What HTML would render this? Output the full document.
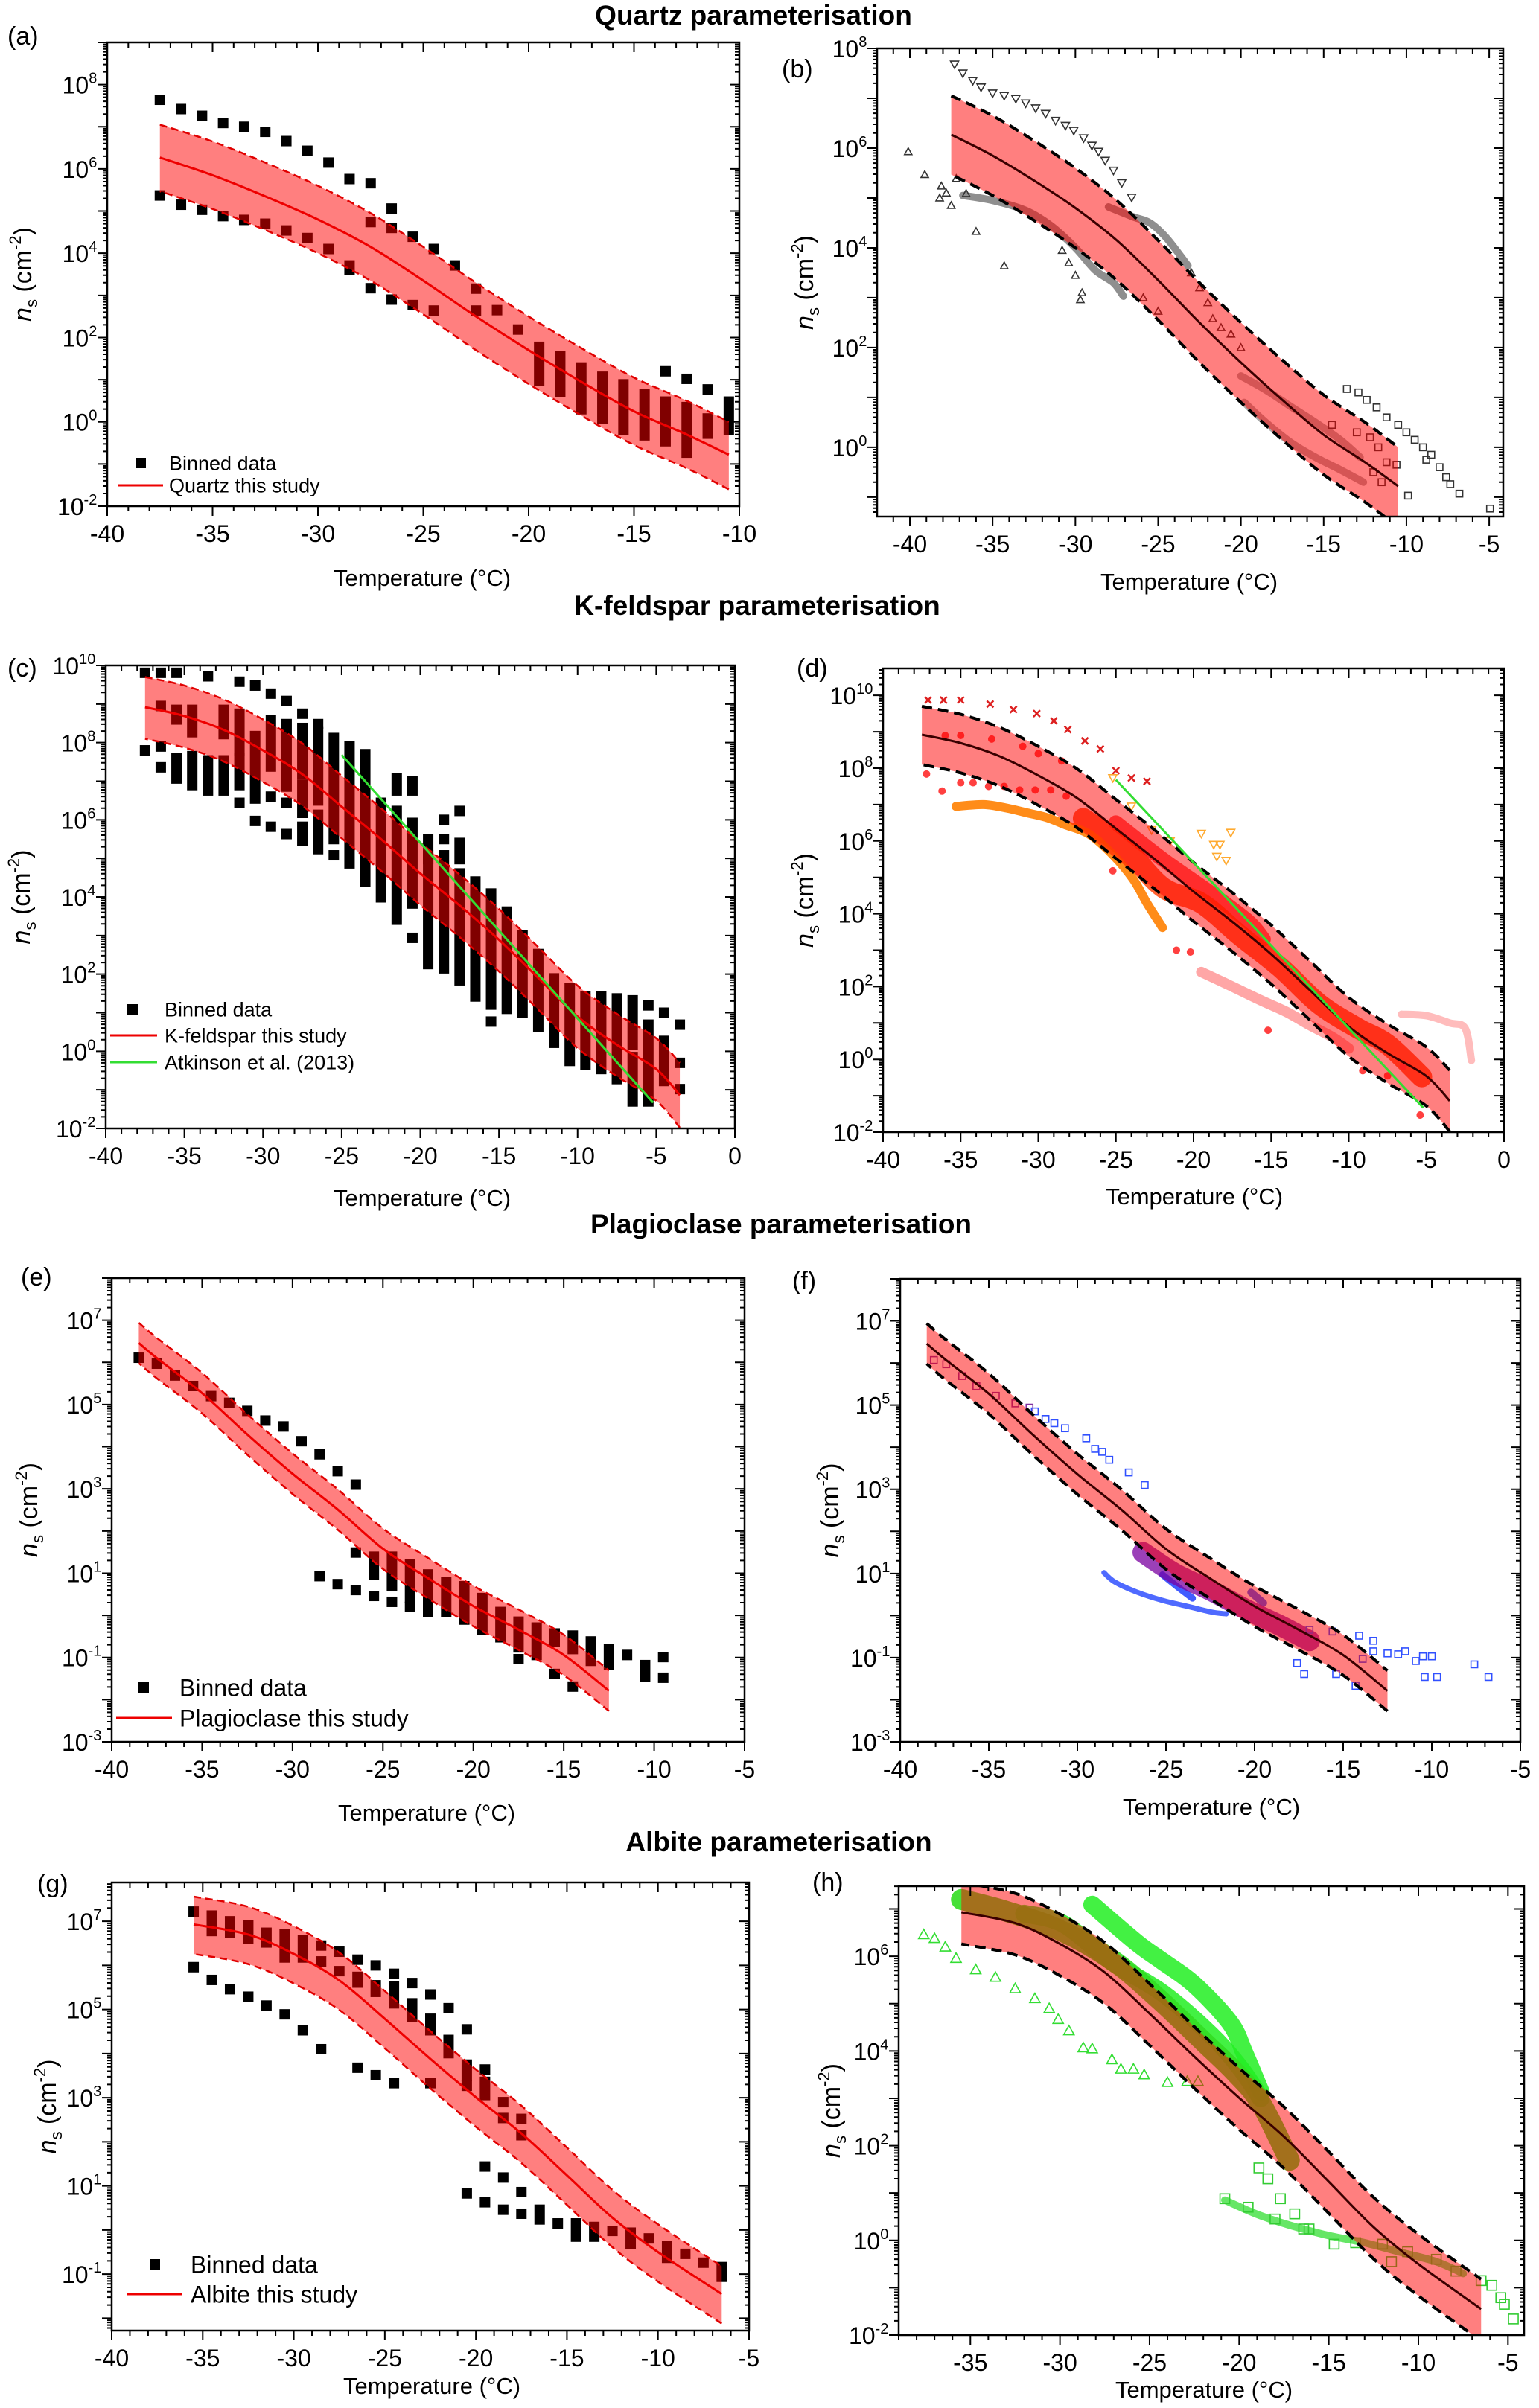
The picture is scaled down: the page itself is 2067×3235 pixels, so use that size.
<!DOCTYPE html>
<html><head><meta charset="utf-8"><title>INP parameterisations</title>
<style>
html,body{margin:0;padding:0;background:#fff;}
svg{display:block;font-family:"Liberation Sans",sans-serif;}
</style></head>
<body>
<svg id="fig" xmlns="http://www.w3.org/2000/svg" width="2067" height="3235" viewBox="0 0 2067 3235">
<rect x="0" y="0" width="2067" height="3235" fill="#fff"/>
<text x="1012" y="33" font-size="37" font-weight="bold" text-anchor="middle">Quartz parameterisation</text>
<text x="1017" y="826" font-size="37" font-weight="bold" text-anchor="middle">K-feldspar parameterisation</text>
<text x="1049" y="1657" font-size="37" font-weight="bold" text-anchor="middle">Plagioclase parameterisation</text>
<text x="1046" y="2487" font-size="37" font-weight="bold" text-anchor="middle">Albite parameterisation</text>
</svg>
<script>
// ---------- parameterisation curves (log10 ns) ----------
const Q_T=[-37.5,-35,-32.5,-30,-27.5,-25,-22.5,-20,-17.5,-15,-12.5,-10.5];
const Q_C=[6.27,5.85,5.35,4.8,4.15,3.35,2.5,1.7,0.95,0.25,-0.3,-0.78];
const Q_U=[7.05,6.65,6.15,5.6,4.95,4.15,3.3,2.5,1.75,1.05,0.5,0.0];
const Q_L=[5.47,5.05,4.55,4.0,3.35,2.55,1.7,0.9,0.15,-0.55,-1.1,-1.6];

const KF_T=[-37.5,-35,-32.5,-30,-27.5,-25,-22.5,-20,-17.5,-15,-12.5,-10,-7.5,-5,-3.5];
const KF_C=[8.92,8.69,8.33,7.8,7.18,6.34,5.5,4.61,3.78,2.89,1.9,0.9,0.17,-0.46,-1.14];
const KF_U=[9.7,9.48,9.12,8.6,7.98,7.14,6.3,5.41,4.58,3.69,2.7,1.7,0.97,0.34,-0.3];
const KF_L=[8.1,7.87,7.51,6.98,6.36,5.52,4.68,3.79,2.96,2.07,1.08,0.08,-0.65,-1.28,-1.98];
const AT_T=[-25,-5.2];
const AT_V=[7.68,-1.33];

const PL_T=[-38.5,-37.5,-35,-32.5,-30,-27.5,-25,-22.5,-20,-17.5,-15,-12.5];
const PL_C=[6.46,6.1,5.27,4.29,3.36,2.51,1.58,0.88,0.22,-0.34,-0.94,-1.79];
const PL_U=[6.94,6.58,5.75,4.77,3.84,2.99,2.06,1.36,0.7,0.14,-0.46,-1.31];
const PL_L=[5.98,5.62,4.79,3.81,2.88,2.03,1.1,0.4,-0.26,-0.82,-1.42,-2.27];

const AB_T=[-35.5,-32.5,-30,-27.5,-25,-22.5,-20,-17.5,-15,-12.5,-10,-6.5];
const AB_C=[6.93,6.7,6.26,5.66,4.79,3.88,3.01,2.19,1.24,0.28,-0.5,-1.45];
const AB_U=[7.56,7.33,6.89,6.29,5.42,4.51,3.64,2.82,1.87,0.91,0.13,-0.82];
const AB_L=[6.26,6.03,5.59,4.99,4.12,3.21,2.34,1.52,0.57,-0.39,-1.17,-2.12];

// ---------- binned data (T, log10 lo, log10 hi) ----------
const A_T=[-37.5,-36.5,-35.5,-34.5,-33.5,-32.5,-31.5,-30.5,-29.5,-28.5,-27.5,-26.5,-25.5,-24.5,-23.5,-22.5,-21.5,-20.5,
 -37.5,-36.5,-35.5,-34.5,-33.5,-32.5,-31.5,-30.5,-29.5,-28.5,-27.5,-26.5,-25.5,-24.5,-22.5,-27.5,-26.5,
 -19.5,-18.5,-17.5,-16.5,-15.5,-14.5,-13.5,-13.5,-12.5,-12.5,-11.5,-11.5,-10.5];
const A_LO=[7.64,7.42,7.26,7.09,7.0,6.88,6.66,6.43,6.15,5.76,5.66,5.06,4.39,4.1,3.71,3.16,2.65,2.19,
 5.37,5.15,5.03,4.88,4.79,4.7,4.54,4.36,4.1,3.6,3.17,2.9,2.77,2.64,2.64,4.74,4.6,
 0.98,0.71,0.3,0.08,-0.19,-0.32,-0.46,1.2,-0.73,1.02,-0.28,0.77,-0.19];
const A_HI=[7.64,7.42,7.26,7.09,7.0,6.88,6.66,6.43,6.15,5.76,5.66,5.06,4.39,4.1,3.71,3.16,2.65,2.19,
 5.37,5.15,5.03,4.88,4.79,4.7,4.54,4.36,4.1,3.71,3.17,2.9,2.77,2.64,2.64,4.74,4.6,
 1.78,1.56,1.29,1.07,0.89,0.66,0.48,1.2,0.35,1.02,0.08,0.77,0.48];

const C_T=[-37.5,-37.5,-36.5,-36.5,-36.5,-36.5,-35.5,-35.5,-35.5,-34.5,-34.5,-33.5,-33.5,-32.5,-32.5,-31.5,-31.5,-31.5,-31.5,
 -30.5,-30.5,-30.5,-29.5,-29.5,-29.5,-29.5,-28.5,-28.5,-28.5,-28.5,-27.5,-27.5,-27.5,-27.5,-26.5,-26.5,-26.5,-25.5,-25.5,
 -24.5,-23.5,-22.5,-22.5,-21.5,-21.5,-20.5,-20.5,-20.5,-19.5,-19.5,-18.5,-18.5,-18.5,-17.5,-17.5,-17.5,-16.5,-15.5,-15.5,
 -14.5,-13.5,-12.5,-11.5,-10.5,-9.5,-8.5,-7.5,-6.5,-6.5,-5.5,-5.5,-4.5,-4.5,-3.5,-3.5,-3.5];
const C_LO=[9.81,7.8,9.81,8.95,7.9,7.36,9.81,8.6,7.07,8.27,6.9,9.72,6.76,8.22,6.76,9.58,7.8,6.9,6.44,
 9.48,6.55,5.97,9.27,7.38,6.6,5.82,9.08,6.86,6.44,5.63,8.75,7.18,6.18,5.45,8.48,6.5,5.24,5.5,5.08,
 4.87,4.4,4.25,3.99,6.76,3.41,6.76,3.83,2.94,4.98,2.26,6.0,5.5,2.15,6.23,4.98,1.84,1.42,1.21,0.77,
 1.1,1.0,0.64,0.22,-0.25,-0.36,-0.46,-0.72,0.17,-1.3,1.19,-1.3,1.0,-0.77,0.69,-0.3,-0.98];
const C_HI=[9.81,7.8,9.81,8.95,7.9,7.36,9.81,8.85,7.6,8.85,7.65,9.72,7.54,8.85,7.54,9.58,8.75,7.6,6.44,
 9.48,8.17,5.97,9.27,8.59,6.6,5.82,9.08,8.48,6.44,5.63,8.75,8.38,6.91,5.82,8.48,8.27,6.13,8.12,5.08,
 7.9,7.7,6.44,3.99,7.07,6.23,7.0,5.92,2.94,5.5,5.08,6.0,5.5,5.08,6.23,5.4,4.61,4.4,4.09,0.77,
 3.62,3.0,2.52,1.89,1.63,1.42,1.42,1.37,1.32,-0.15,1.19,0.69,1.0,0.27,0.69,-0.3,-0.98];

const E_T=[-38.5,-37.5,-36.5,-35.5,-34.5,-33.5,-32.5,-31.5,-30.5,-29.5,-28.5,-27.5,-26.5,
 -28.5,-27.5,-26.5,-25.5,-24.5,-23.5,-22.5,-26.5,-25.5,-24.5,-23.5,-22.5,-21.5,-20.5,-19.5,-18.5,-17.5,-17.5,-16.5,
 -15.5,-15.5,-14.5,-14.5,-13.5,-12.5,-11.5,-10.5,-9.5,-9.5];
const E_LO=[6.11,5.97,5.69,5.44,5.2,5.04,4.85,4.62,4.48,4.13,3.82,3.42,3.1,
 0.93,0.74,0.6,0.46,0.32,0.2,0.08,1.49,0.97,0.69,0.41,0.08,0.08,-0.1,-0.34,-0.52,-0.76,-1.04,-0.94,
 -0.62,-1.39,-0.8,-1.69,-1.08,-1.18,-0.94,-1.46,-0.99,-1.48];
const E_HI=[6.11,5.97,5.69,5.44,5.2,5.04,4.85,4.62,4.48,4.13,3.82,3.42,3.1,
 0.93,0.74,0.6,0.46,0.32,0.2,0.08,1.49,1.39,1.39,1.21,0.97,0.79,0.69,0.41,0.08,-0.15,-1.04,-0.29,
 -0.43,-1.39,-0.48,-1.69,-0.62,-0.8,-0.94,-1.18,-0.99,-1.48];

const G_T=[-35.5,-35.5,-34.5,-34.5,-33.5,-33.5,-32.5,-32.5,-31.5,-31.5,-30.5,-30.5,-29.5,-29.5,-28.5,-28.5,-28.5,-27.5,-27.5,
 -26.5,-26.5,-26.5,-25.5,-25.5,-25.5,-24.5,-24.5,-24.5,-23.5,-23.5,-22.5,-22.5,-22.5,-21.5,-21.5,-20.5,-20.5,-20.5,-20.5,
 -19.5,-19.5,-19.5,-19.5,-18.5,-18.5,-18.5,-18.5,-17.5,-17.5,-17.5,-17.5,-16.5,-15.5,-14.5,-13.5,-12.5,-11.5,-10.5,-9.5,-8.5,-7.5,-6.5];
const G_LO=[7.22,5.96,6.78,5.67,6.74,5.46,6.61,5.29,6.52,5.09,6.18,4.89,6.18,4.53,6.45,6.09,4.1,6.31,5.87,
 6.13,5.61,3.68,6.0,5.4,3.51,5.81,5.14,3.33,5.6,4.83,5.34,4.53,3.33,5.03,4.01,4.55,3.49,3.27,0.83,
 3.64,3.06,1.44,0.63,2.9,2.54,1.19,0.46,2.52,2.15,0.86,0.37,0.24,0.15,-0.15,-0.15,-0.02,-0.32,-0.19,-0.63,-0.54,-0.74,-1.06];
const G_HI=[7.22,5.96,7.13,5.67,7.0,5.46,6.91,5.29,6.74,5.09,6.7,4.89,6.57,4.53,6.45,6.09,4.1,6.31,5.87,
 6.13,5.74,3.68,6.0,5.55,3.51,5.81,5.53,3.33,5.6,5.14,5.34,4.79,3.33,5.03,4.31,4.55,3.75,3.27,0.83,
 3.64,3.36,1.44,0.63,2.9,2.54,1.19,0.46,2.52,2.15,0.86,0.37,0.46,0.15,0.15,0.07,-0.02,-0.06,-0.19,-0.37,-0.54,-0.74,-0.84];

// ---------- literature data, panel (b) ----------
const B_DN_T=[-37.3,-36.8,-36.2,-35.7,-35.0,-34.3,-33.6,-33.0,-32.4,-31.8,-31.2,-30.6,-30.1,-29.5,-29.0,-28.6,-28.2,-27.7,-27.2,-26.6];
const B_DN_V=[7.68,7.5,7.35,7.22,7.1,7.05,6.99,6.9,6.8,6.69,6.55,6.45,6.35,6.2,6.05,5.93,5.75,5.55,5.3,5.01];
const B_UP_T=[-40.1,-39.1,-38.1,-37.8,-37.2,-36.6,-36.0,-34.3,-37.5,-38.2,-30.8,-30.4,-30.0,-29.6,-29.7,-23.0,-22.5,-22.0,-21.7,-21.2,-20.6,-20.0,-25.9,-25.0];
const B_UP_V=[5.93,5.47,5.24,5.1,5.39,5.09,4.33,3.64,4.85,5.0,3.95,3.7,3.45,3.1,2.96,3.5,3.2,2.9,2.58,2.4,2.27,2.0,3.0,2.73];
const B_TR1_T=[-36.8,-35,-33,-31.5,-30,-28.8,-27.7,-27.1];
const B_TR1_V=[5.05,4.95,4.75,4.45,4.0,3.55,3.3,3.03];
const B_TR2_T=[-28.0,-26.5,-25.5,-24.5,-23.2];
const B_TR2_V=[4.82,4.62,4.5,4.2,3.64];
const B_TR3_T=[-20.0,-18.5,-17.0,-15.5,-14.0,-12.8];
const B_TR3_V=[1.43,1.15,0.82,0.5,0.15,-0.2];
const B_TR4_T=[-19.8,-18.5,-17.0,-15.5,-14.0,-12.6];
const B_TR4_V=[0.9,0.5,0.1,-0.2,-0.45,-0.7];
const B_SQ_T=[-13.6,-12.9,-12.4,-11.8,-11.2,-10.5,-10.0,-9.5,-9.0,-8.5,-8.0,-7.6,-7.35,-9.9,-8.8,-6.8,-4.95,-12.2,-11.7,-11.2,-10.6,-12.0,-11.5,-13.0,-14.5];
const B_SQ_V=[1.17,1.1,0.95,0.8,0.6,0.45,0.3,0.15,0.0,-0.15,-0.4,-0.6,-0.74,-0.97,-0.25,-0.93,-1.23,0.2,0.0,-0.3,-0.35,-0.5,-0.7,0.3,0.45];

// ---------- literature data, panel (d) ----------
const D_X_T=[-37.1,-36.1,-35,-33.1,-31.6,-30.1,-29,-28.1,-27,-26,-25,-24,-23];
const D_X_V=[9.87,9.87,9.87,9.76,9.61,9.5,9.3,9.06,8.75,8.53,7.93,7.73,7.64];
const D_CI_T=[-37.2,-36.2,-35,-34.2,-33.2,-32.2,-31.2,-30.2,-29.2,-28.2,-36,-35,-33,-31,-30,-28.5,-25.2,-21.1,-20.2,-15.2,-9.1,-5.4,-7.5,-6.5];
const D_CI_V=[7.84,7.37,7.6,7.6,7.5,7.5,7.4,7.4,7.4,7.23,8.9,8.9,8.8,8.6,8.4,8.2,5.18,3.0,2.95,0.8,-0.31,-1.53,-0.45,-0.2];
const D_OR_T=[-35.3,-33.5,-32,-30.8,-29.5,-28.3,-26.7,-25.2,-23.9,-23.0,-22.0];
const D_OR_V=[6.95,7.0,6.9,6.78,6.65,6.45,6.18,5.62,4.96,4.29,3.62];
const D_RO_T=[-27.1,-24.5,-22,-19.5,-17,-14.4,-11.9,-9.4,-7.5,-5.3];
const D_RO_V=[6.62,5.84,4.73,4.29,3.4,2.52,1.52,0.85,0.41,-0.48];
const D_RD_T=[-25,-22,-19,-16.5,-15.5];
const D_RD_V=[6.5,5.5,4.6,3.8,3.3];
const D_PK_T=[-19.5,-17.5,-15.7,-14,-12.6,-11,-10];
const D_PK_V=[2.4,2.0,1.63,1.3,0.96,0.6,0.3];
const D_PR_T=[-6.6,-5,-3.5,-2.5,-2.1];
const D_PR_V=[1.24,1.2,1.0,0.85,-0.03];
const D_TR_T=[-25.2,-24,-22.7,-21.5,-19.5,-18.7,-18.5,-17.9,-17.6,-18.3];
const D_TR_V=[7.73,6.95,6.3,6.0,6.2,5.9,5.57,5.46,6.23,5.9];

// ---------- literature data, panel (f) ----------
const F_PS_T=[-38.1,-37.4,-36.5,-35.7,-34.6,-33.5,-32.7];
const F_PS_V=[6.07,5.97,5.69,5.45,5.22,5.04,4.94];
const F_BS_T=[-32.4,-31.8,-31.3,-30.7,-29.5,-29.0,-28.6,-28.2,-27.1,-26.2];
const F_BS_V=[4.85,4.67,4.57,4.45,4.21,3.96,3.89,3.7,3.4,3.1];
const F_BL_T=[-28.5,-27.9,-26.6,-25.2,-23.8,-22.4,-21.6];
const F_BL_V=[1.02,0.8,0.55,0.36,0.22,0.08,0.04];
const F_BD_T=[-25.2,-24.4,-23.5];
const F_BD_V=[0.97,0.7,0.41];
const F_BB_T=[-20.2,-19.5];
const F_BB_V=[0.55,0.3];
const F_PC_T=[-26.3,-24.5,-22.5,-20.5,-18.5,-16.9];
const F_PC_V=[1.5,1.0,0.6,0.15,-0.25,-0.6];
const F_BR_T=[-16.9,-15.6,-14.1,-13.3,-12.5,-11.9,-11.5,-10.9,-10.5,-10.0,-10.4,-9.7,-7.6,-6.8,-17.6,-17.2,-15.4,-14.3,-13.9,-13.3];
const F_BR_V=[-0.34,-0.38,-0.48,-0.6,-0.9,-0.92,-0.85,-1.08,-0.97,-0.97,-1.46,-1.46,-1.16,-1.46,-1.13,-1.39,-1.39,-1.67,-1.03,-0.85];

// ---------- literature data, panel (h) ----------
const H_TR_T=[-37.6,-37,-36.4,-35.8,-34.7,-33.6,-32.5,-31.4,-30.6,-30.1,-29.5,-28.7,-28.2,-27.1,-26.6,-25.9,-25.3,-24,-22.9,-22.3];
const H_TR_V=[6.46,6.38,6.2,5.96,5.72,5.56,5.32,5.11,4.9,4.67,4.43,4.07,4.05,3.82,3.62,3.62,3.5,3.34,3.36,3.36];
const H_UP_T=[-28.2,-25.7,-24.3,-22.5,-20.5,-19.7,-18.8];
const H_UP_V=[7.09,6.28,5.9,5.4,4.59,3.95,3.14];
const H_MD_T=[-32,-29.8,-27.1,-24.3,-21.6,-19.9,-18.8];
const H_MD_V=[6.9,6.68,5.88,5.23,4.35,3.62,3.0];
const H_OL_T=[-35.5,-33,-30,-27,-24.5,-22,-20.2,-18.8,-17.2];
const H_OL_V=[7.2,6.95,6.55,5.9,5.1,4.2,3.54,2.9,1.69];
const H_SL_T=[-20.8,-19,-17,-15,-13,-11,-9,-7.5];
const H_SL_V=[0.85,0.55,0.3,0.1,-0.05,-0.25,-0.45,-0.7];
const H_SQ_T=[-18.9,-18.4,-17.7,-16.9,-16.4,-20.8,-19.5,-18.0,-16.1,-14.7,-13.5,-12,-10.6,-9,-7.9,-6.5,-5.9,-5.4,-5.2,-4.7,-11.5];
const H_SQ_V=[1.53,1.3,0.88,0.56,0.24,0.88,0.7,0.45,0.24,-0.08,-0.05,-0.08,-0.24,-0.4,-0.65,-0.85,-0.95,-1.21,-1.35,-1.66,-0.45];

// ---------- axis tick labels ----------
const XT_A=[-40,-35,-30,-25,-20,-15,-10];
const YT_A=[-2,0,2,4,6,8];
const XT_B=[-40,-35,-30,-25,-20,-15,-10,-5];
const YT_B=[0,2,4,6,8];
const XT_C=[-40,-35,-30,-25,-20,-15,-10,-5,0];
const YT_C=[-2,0,2,4,6,8,10];
const XT_E=[-40,-35,-30,-25,-20,-15,-10,-5];
const YT_E=[-3,-1,1,3,5,7];
const YT_G=[-1,1,3,5,7];
const XT_H=[-35,-30,-25,-20,-15,-10,-5];
const YT_H=[-2,0,2,4,6];

const NS='http://www.w3.org/2000/svg';
const svg=document.getElementById('fig');
function el(tag,attrs,parent){const e=document.createElementNS(NS,tag);for(const k in attrs)e.setAttribute(k,attrs[k]);parent.appendChild(e);return e;}

// smooth path through screen points (Catmull-Rom)
function smooth(pts,move){
  let d=(move?'M':'L')+pts[0][0]+','+pts[0][1];
  for(let i=0;i<pts.length-1;i++){
    const p0=pts[Math.max(0,i-1)],p1=pts[i],p2=pts[i+1],p3=pts[Math.min(pts.length-1,i+2)];
    const c1x=p1[0]+(p2[0]-p0[0])/6,c1y=p1[1]+(p2[1]-p0[1])/6;
    const c2x=p2[0]-(p3[0]-p1[0])/6,c2y=p2[1]-(p3[1]-p1[1])/6;
    d+=`C${c1x},${c1y} ${c2x},${c2y} ${p2[0]},${p2[1]}`;
  }
  return d;
}

function makePanel(p){
  const g=el('g',{},svg);
  
  
  const sx=t=>p.L+(t-p.x0)/(p.x1-p.x0)*(p.R-p.L);
  const sy=v=>p.B-(v-p.y0)/(p.y1-p.y0)*(p.B-p.T);
  const cp=el('clipPath',{id:'clip-'+p.key},g);
  el('rect',{x:p.L,y:p.T,width:p.R-p.L,height:p.B-p.T},cp);
  const plot=el('g',{'clip-path':'url(#clip-'+p.key+')'},g);
  
  
  return {p,g,plot,sx,sy};
}

function drawBinned(P,T,LO,HI,s){
  for(let i=0;i<T.length;i++){
    const y1=P.sy(HI[i]),y2=P.sy(LO[i]);
    const r=el('rect',{x:P.sx(T[i])-s/2,y:y1-s/2,width:s,height:(y2-y1)+s,fill:'#000'},P.plot);
    
    
  }
}

function marker(P,type,x,y,color,sz){
  let m;
  const h=sz/2;
  if(type==='sq') m=el('rect',{x:x-h,y:y-h,width:sz,height:sz,fill:'none',stroke:color,'stroke-width':1.6},P.plot);
  else if(type==='tri') m=el('polygon',{points:`${x},${y-h} ${x-h},${y+h*0.8} ${x+h},${y+h*0.8}`,fill:'none',stroke:color,'stroke-width':1.6},P.plot);
  else if(type==='dtri') m=el('polygon',{points:`${x},${y+h} ${x-h},${y-h*0.8} ${x+h},${y-h*0.8}`,fill:'none',stroke:color,'stroke-width':1.6},P.plot);
  else if(type==='circ') m=el('circle',{cx:x,cy:y,r:h,fill:'none',stroke:color,'stroke-width':2},P.plot);
  else if(type==='fcirc') m=el('circle',{cx:x,cy:y,r:h,fill:color,stroke:'none'},P.plot);
  else m=el('path',{d:`M${x-h},${y-h}L${x+h},${y+h}M${x-h},${y+h}L${x+h},${y-h}`,stroke:color,'stroke-width':2.5},P.plot);
  return m;
}

function drawMarkers(P,T,V,type,color,sz){
  for(let i=0;i<T.length;i++){
    const m=marker(P,type,P.sx(T[i]),P.sy(V[i]),color,sz);
    
    
  }
}

function drawTrace(P,T,V,color,w,op){
  const pts=T.map((t,i)=>[P.sx(t),P.sy(V[i])]);
  const l=el('path',{d:smooth(pts,true),fill:'none',stroke:color,'stroke-width':w,'stroke-opacity':op,'stroke-linecap':'round','stroke-linejoin':'round'},P.plot);
  
  
}

function drawBand(P,T,C,U,L,dark){
  const up=T.map((t,i)=>[P.sx(t),P.sy(U[i])]);
  const lo=T.map((t,i)=>[P.sx(t),P.sy(L[i])]).reverse();
  const band=el('path',{d:smooth(up,true)+smooth(lo,false)+'Z',fill:'#ff0000','fill-opacity':0.5,stroke:'none'},P.plot);
  
  
  const dcol=dark?'#000':'#e00000', dw=dark?4:2.5, da=dark?'14,8':'10,6';
  const u=el('path',{d:smooth(up,true),fill:'none',stroke:dcol,'stroke-width':dw,'stroke-dasharray':da},P.plot);
  
  
  const l=el('path',{d:smooth(lo,true),fill:'none',stroke:dcol,'stroke-width':dw,'stroke-dasharray':da},P.plot);
  
  
  const c=el('path',{d:smooth(T.map((t,i)=>[P.sx(t),P.sy(C[i])]),true),fill:'none',stroke:dark?'#3a0000':'#ee0000','stroke-width':3},P.plot);
  
  
}

function drawAxes(P,xt,yt,cfg){
  const p=P.p,g=P.g;
  const fr=el('rect',{x:p.L,y:p.T,width:p.R-p.L,height:p.B-p.T,fill:'none',stroke:'#000','stroke-width':2.5},g);
  
  
  const tk=el('g',{stroke:'#000','stroke-width':2},g);
  
  
  let d='';
  for(let t=Math.ceil(p.x0);t<=Math.floor(p.x1);t++){
    const x=P.sx(t), maj=(t%5===0), len=maj?13:7;
    d+=`M${x},${p.B}v${len}M${x},${p.T}v${len}`;
  }
  for(let dd=Math.floor(p.y0);dd<=Math.ceil(p.y1);dd++){
    for(let k=1;k<10;k++){
      const v=dd+Math.log10(k);
      if(v<p.y0-1e-6||v>p.y1+1e-6) continue;
      const y=P.sy(v), len=(k===1)?13:6;
      d+=`M${p.L},${y}h${-len}M${p.R},${y}h${-len}`;
    }
  }
  el('path',{d:d,fill:'none'},tk);
  xt.forEach(t=>{
    const tx=el('text',{x:P.sx(t),y:p.B+48,'font-size':32,'text-anchor':'middle'},g);
    tx.textContent=String(t);
    
    
  });
  yt.forEach(v=>{
    const tx=el('text',{x:p.L-12,y:P.sy(v)+12,'font-size':32,'text-anchor':'end'},g);
    
    
    const a=el('tspan',{},tx); a.textContent='10';
    const b=el('tspan',{dy:-14,'font-size':20},tx); b.textContent=String(v);
    const c=el('tspan',{dy:14,'font-size':20},tx); c.textContent='\u200a';
  });
  const xl=el('text',{x:cfg.xlx,y:cfg.xly,'font-size':31,'text-anchor':'middle'},g);
  xl.textContent='Temperature (\u00B0C)';
  
  
  const cy=(p.T+p.B)/2;
  const yl=el('text',{x:cfg.ylx,y:cy,'font-size':34,'text-anchor':'middle',transform:`rotate(-90 ${cfg.ylx} ${cy})`,dy:12},g);
  
  
  const n=el('tspan',{'font-style':'italic'},yl); n.textContent='n';
  const s=el('tspan',{dy:8,'font-size':22},yl); s.textContent='s';
  const r1=el('tspan',{dy:-8},yl); r1.textContent=' (cm';
  const sp=el('tspan',{dy:-14,'font-size':22},yl); sp.textContent='-2';
  const r2=el('tspan',{dy:14},yl); r2.textContent=')';
  const pl=el('text',{x:cfg.plx,y:cfg.ply,'font-size':34},g);
  pl.textContent=cfg.label;
  
  
}

function legend(P,items,mx,lx1,lx2,tx,ys,fs,ms){
  const lg=el('g',{},P.g);
  
  
  items.forEach((it,i)=>{
    const y=ys[i];
    if(it.type==='sq'){
      const r=el('rect',{x:mx-ms/2,y:y-ms/2,width:ms,height:ms,fill:'#000'},lg);
      
      
    } else {
      const l=el('line',{x1:lx1,x2:lx2,y1:y,y2:y,stroke:it.color,'stroke-width':3},lg);
      
      
    }
    const t=el('text',{x:tx,y:y+fs*0.36,'font-size':fs},lg);
    t.textContent=it.text;
    
    
  });
}

// ===== (a) =====
const Pa=makePanel({name:'panel-a-quartz-binned',key:'a',L:144,R:993,T:57,B:680,x0:-40,x1:-10,y0:-2,y1:9});
drawBinned(Pa,A_T,A_LO,A_HI,14);
drawBand(Pa,Q_T,Q_C,Q_U,Q_L,false);
drawAxes(Pa,XT_A,YT_A,{xlx:567,xly:787,ylx:30,plx:10,ply:60,label:'(a)'});
legend(Pa,[{type:'sq',text:'Binned data'},{type:'line',color:'#ee0000',text:'Quartz this study'}],189,158,219,227,[622,652],27,14);

// ===== (b) =====
const Pb=makePanel({name:'panel-b-quartz-literature',key:'b',L:1178,R:2019,T:65,B:694,x0:-41.98,x1:-4.15,y0:-1.39,y1:8});
drawTrace(Pb,B_TR1_T,B_TR1_V,'#444',10,0.6);
drawTrace(Pb,B_TR2_T,B_TR2_V,'#444',10,0.6);
drawTrace(Pb,B_TR3_T,B_TR3_V,'#444',10,0.45);
drawTrace(Pb,B_TR4_T,B_TR4_V,'#444',10,0.45);
drawMarkers(Pb,B_DN_T,B_DN_V,'dtri','#333',11);
drawMarkers(Pb,B_UP_T,B_UP_V,'tri','#333',10);
drawMarkers(Pb,B_SQ_T,B_SQ_V,'sq','#333',9);
drawBand(Pb,Q_T,Q_C,Q_U,Q_L,true);
drawAxes(Pb,XT_B,YT_B,{xlx:1597,xly:792,ylx:1080,plx:1050,ply:104,label:'(b)'});

// ===== (c) =====
const Pc=makePanel({name:'panel-c-kfeldspar-binned',key:'c',L:142,R:987,T:894,B:1516,x0:-40,x1:0,y0:-2,y1:10});
drawBinned(Pc,C_T,C_LO,C_HI,14);
drawBand(Pc,KF_T,KF_C,KF_U,KF_L,false);
(function(){const l=el('polyline',{points:AT_T.map((t,i)=>Pc.sx(t)+','+Pc.sy(AT_V[i])).join(' '),fill:'none',stroke:'#33dd33','stroke-width':3},Pc.plot);

})();
drawAxes(Pc,XT_C,YT_C,{xlx:567,xly:1620,ylx:28,plx:10,ply:909,label:'(c)'});
legend(Pc,[{type:'sq',text:'Binned data'},{type:'line',color:'#ee0000',text:'K-feldspar this study'},{type:'line',color:'#33dd33',text:'Atkinson et al. (2013)'}],178,148,211,221,[1356,1391,1427],27,14);

// ===== (d) =====
const Pd=makePanel({name:'panel-d-kfeldspar-literature',key:'d',L:1186,R:2020,T:898,B:1521,x0:-40,x1:0,y0:-2,y1:10.74});
drawTrace(Pd,D_PK_T,D_PK_V,'#ff8080',14,0.7);
drawTrace(Pd,D_PR_T,D_PR_V,'#ffa0a0',10,0.7);
drawTrace(Pd,D_RD_T,D_RD_V,'#ff2020',20,0.75);
drawTrace(Pd,D_RO_T,D_RO_V,'#ff3a00',28,0.8);
drawTrace(Pd,D_OR_T,D_OR_V,'#ff8000',12,0.9);
drawMarkers(Pd,D_X_T,D_X_V,'x','#dd2020',9);
drawMarkers(Pd,D_CI_T,D_CI_V,'fcirc','#ff4040',10);
drawMarkers(Pd,D_TR_T,D_TR_V,'dtri','#ffaa30',11);
drawBand(Pd,KF_T,KF_C,KF_U,KF_L,true);
(function(){const l=el('polyline',{points:AT_T.map((t,i)=>Pd.sx(t)+','+Pd.sy(AT_V[i])).join(' '),fill:'none',stroke:'#33dd33','stroke-width':3},Pd.plot);

})();
drawAxes(Pd,XT_C,YT_C,{xlx:1604,xly:1618,ylx:1080,plx:1070,ply:909,label:'(d)'});

// ===== (e) =====
const Pe=makePanel({name:'panel-e-plagioclase-binned',key:'e',L:150,R:1000,T:1717,B:2340,x0:-40,x1:-5,y0:-3,y1:8});
drawBinned(Pe,E_T,E_LO,E_HI,14);
drawBand(Pe,PL_T,PL_C,PL_U,PL_L,false);
drawAxes(Pe,XT_E,YT_E,{xlx:573,xly:2446,ylx:38,plx:28,ply:1727,label:'(e)'});
legend(Pe,[{type:'sq',text:'Binned data'},{type:'line',color:'#ee0000',text:'Plagioclase this study'}],193,156,231,241,[2267,2308],32,14);

// ===== (f) =====
const Pf=makePanel({name:'panel-f-plagioclase-literature',key:'f',L:1209,R:2042,T:1718,B:2340,x0:-40,x1:-5,y0:-3,y1:8});
drawTrace(Pf,F_BL_T,F_BL_V,'#3050ff',7,0.85);
drawTrace(Pf,F_BD_T,F_BD_V,'#2040ff',9,0.85);
drawTrace(Pf,F_BB_T,F_BB_V,'#2040ff',10,0.85);
drawTrace(Pf,F_PC_T,F_PC_V,'#7a00a0',28,0.75);
drawMarkers(Pf,F_PS_T,F_PS_V,'sq','#8030a0',9);
drawMarkers(Pf,F_BS_T,F_BS_V,'sq','#3050ff',9);
drawMarkers(Pf,F_BR_T,F_BR_V,'sq','#3050ff',9);
drawBand(Pf,PL_T,PL_C,PL_U,PL_L,true);
drawAxes(Pf,XT_E,YT_E,{xlx:1627,xly:2438,ylx:1114,plx:1064,ply:1732,label:'(f)'});

// ===== (g) =====
const Pg=makePanel({name:'panel-g-albite-binned',key:'g',L:150,R:1006,T:2529,B:3131,x0:-40,x1:-5,y0:-2.28,y1:7.88});
drawBinned(Pg,G_T,G_LO,G_HI,14);
drawBand(Pg,AB_T,AB_C,AB_U,AB_L,false);
drawAxes(Pg,XT_E,YT_G,{xlx:580,xly:3216,ylx:63,plx:50,ply:2542,label:'(g)'});
legend(Pg,[{type:'sq',text:'Binned data'},{type:'line',color:'#ee0000',text:'Albite this study'}],208,170,245,256,[3042,3082],32,14);

// ===== (h) =====
const Ph=makePanel({name:'panel-h-albite-literature',key:'h',L:1207,R:2047,T:2534,B:3137,x0:-39.0,x1:-4.1,y0:-2,y1:7.48});
drawTrace(Ph,H_UP_T,H_UP_V,'#22ee22',24,0.85);
drawTrace(Ph,H_MD_T,H_MD_V,'#22ee22',24,0.85);
drawTrace(Ph,H_OL_T,H_OL_V,'#33dd22',28,0.9);
drawTrace(Ph,H_SL_T,H_SL_V,'#33dd33',10,0.75);
drawMarkers(Ph,H_TR_T,H_TR_V,'tri','#33dd33',14);
drawMarkers(Ph,H_SQ_T,H_SQ_V,'sq','#33cc33',13);
drawBand(Ph,AB_T,AB_C,AB_U,AB_L,true);
drawAxes(Ph,XT_H,YT_H,{xlx:1617,xly:3221,ylx:1116,plx:1091,ply:2540,label:'(h)'});
</script>
</body></html>
